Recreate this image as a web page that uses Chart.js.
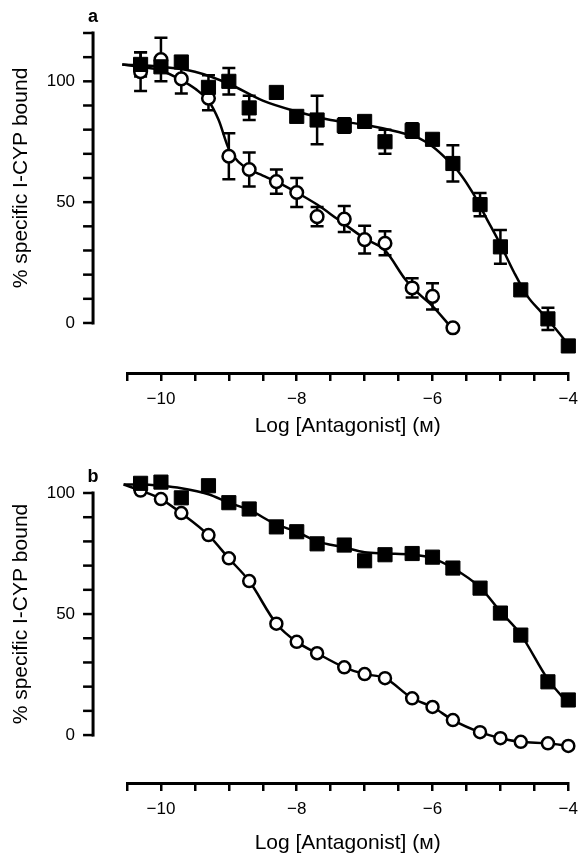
<!DOCTYPE html>
<html>
<head>
<meta charset="utf-8">
<script src="https://cdn.jsdelivr.net/npm/chart.js@4.4.1/dist/chart.umd.min.js"></script>
<style>
  body { margin: 0; background: #fff; }
  canvas { position: absolute; left: 0; }
  #chartA { top: 0; }
  #chartB { top: 440px; }
</style>
</head>
<body>
<canvas id="chartA" width="586" height="440"></canvas>
<canvas id="chartB" width="586" height="418"></canvas>
<script>
const FONT = '"Liberation Sans", Arial, "DejaVu Sans", sans-serif';

// log molar concentrations used in both panels
const logConc = [-10.3, -10, -9.7, -9.3, -9, -8.7, -8.3, -8, -7.7, -7.3, -7, -6.7, -6.3, -6, -5.7, -5.3, -5, -4.7, -4.3, -4];

// panel a
const aSquare = [107, 106, 108, 97.5, 100, 89, 95.4, 85.5, 84, 81.7, 83.4, 75, 79.7, 76, 66, 49, 31.5, 13.7, 1.7, -9.5];
const aSquareErr = [5, 2, 0, 5, 5.5, 5, 0, 0, 10, 3, 0, 5, 3, 0, 7.5, 4.8, 7, 0, 4.6, 0];
const aCircleX = [-10.3, -10, -9.7, -9.3, -9, -8.7, -8.3, -8, -7.7, -7.3, -7, -6.7, -6.3, -6, -5.7];
const aCircle = [104, 109, 101, 93, 69, 63.5, 58.5, 54, 44, 43, 34.5, 33, 14.5, 11, -2];
const aCircleErr = [8, 9, 6, 5, 9.5, 7, 5, 6, 4, 5.4, 5.7, 5, 4, 5.4, 0];

const aSquareFitX = [-10.57, -10, -9.5, -9, -8.5, -8, -7.5, -7, -6.5, -6.2, -6, -5.8, -5.6, -5.4, -5.2, -5, -4.8, -4.6, -4.4, -4.2, -3.97];
const aSquareFitY = [107, 106, 104, 99, 92, 87.5, 84, 82, 79, 76.5, 73, 68, 62, 53.5, 43, 32.5, 21, 11, 4.5, -2, -10];
const aCircleFitX = [-10.57, -10.3, -10, -9.7, -9.5, -9.3, -9.15, -9, -8.85, -8.7, -8.5, -8.3, -8, -7.7, -7.4, -7, -6.7, -6.4, -6.2, -6, -5.72];
const aCircleFitY = [107, 106, 104.5, 100.5, 97, 92, 84, 72, 66.5, 63.5, 61, 58.5, 54, 49, 43, 35, 30, 18, 12, 7, -2];

// panel b
const bSquare = [104, 104.5, 98, 103, 96, 93.4, 86, 84, 79, 78.5, 72, 74.5, 75, 73.5, 69, 60.7, 50.4, 41.3, 22, 14.5];
const bCircle = [101, 97.5, 91.7, 82.6, 73, 63.6, 46, 38.5, 33.8, 28, 25.2, 23.5, 15.2, 11.6, 6.2, 1.2, -1.3, -2.8, -3.4, -4.5];

const bSquareFitX = [-10.55, -10.3, -10, -9.7, -9.3, -9, -8.7, -8.3, -8, -7.7, -7.3, -7, -6.7, -6.3, -6, -5.7, -5.3, -5, -4.7, -4.3, -4];
const bSquareFitY = [103.5, 103.5, 103, 102, 99.5, 96, 93, 87, 84, 80, 77.5, 75.5, 75, 74.5, 73, 69, 61, 51, 41.5, 23, 13];
const bCircleFitX = [-10.55, -10.3, -10, -9.7, -9.3, -9, -8.7, -8.3, -8, -7.7, -7.3, -7, -6.7, -6.3, -6, -5.7, -5.3, -5, -4.7, -4.3, -4];
const bCircleFitY = [103.5, 101, 97.5, 91.7, 82.6, 73, 63.6, 46, 38.5, 33.8, 28, 25.2, 23.5, 15.2, 11.6, 6.2, 1.2, -1.3, -2.8, -3.4, -4.5];

// axes
const xTickValues = [-10, -8, -6, -4];
const xTickLabels = ['\u221210', '\u22128', '\u22126', '\u22124'];
const yTickLabels = [0, 50, 100];
const xTitle = 'Log [Antagonist] (\u1D0D)';
const yTitle = '% specific I-CYP bound';

function pts(xs, ys) {
    return xs.map(function(x, i) { return { x: x, y: ys[i] }; });
}

// draws the detached y axis, error bars and panel letter
const decor = {
    id: 'decor',
    beforeDatasetsDraw(chart, args, o) {
        const ctx = chart.ctx, xs = chart.scales.x, ys = chart.scales.y;
        ctx.save();
        ctx.strokeStyle = '#000';
        ctx.lineWidth = 2.5;
        (o.errors || []).forEach(function(set) {
            set.x.forEach(function(xv, i) {
                const e = set.err[i];
                if (!e) return;
                const px = xs.getPixelForValue(xv);
                const top = ys.getPixelForValue(set.y[i] + e);
                const bot = ys.getPixelForValue(set.y[i] - e);
                ctx.beginPath();
                ctx.moveTo(px, top); ctx.lineTo(px, bot);
                ctx.moveTo(px - 6.5, top); ctx.lineTo(px + 6.5, top);
                ctx.moveTo(px - 6.5, bot); ctx.lineTo(px + 6.5, bot);
                ctx.stroke();
            });
        });
        ctx.restore();
    },
    afterDraw(chart, args, o) {
        const ctx = chart.ctx, xs = chart.scales.x, ys = chart.scales.y;
        const ax = xs.getPixelForValue(-11);
        const y0 = ys.getPixelForValue(0), yT = ys.getPixelForValue(o.yTop);
        ctx.save();
        ctx.strokeStyle = '#000';
        ctx.fillStyle = '#000';
        ctx.lineWidth = 3;
        ctx.beginPath();
        ctx.moveTo(ax, y0 + 1.5); ctx.lineTo(ax, yT - 1.5);
        ctx.stroke();
        ctx.lineWidth = 2.5;
        for (let v = 0; v <= o.yTop; v += 10) {
            const py = ys.getPixelForValue(v);
            ctx.beginPath();
            ctx.moveTo(ax - 10, py); ctx.lineTo(ax, py);
            ctx.stroke();
        }
        ctx.font = '17px ' + FONT;
        ctx.textAlign = 'right';
        ctx.textBaseline = 'middle';
        yTickLabels.forEach(function(v) {
            ctx.fillText(String(v), ax - 18, ys.getPixelForValue(v));
        });
        ctx.save();
        ctx.translate(21, (y0 + yT) / 2);
        ctx.rotate(-Math.PI / 2);
        ctx.textAlign = 'center';
        ctx.font = '21px ' + FONT;
        ctx.fillText(yTitle, 0, 0);
        ctx.restore();
        ctx.font = 'bold 18px ' + FONT;
        ctx.textAlign = 'center';
        ctx.fillText(o.letter, 93, o.letterY);
        ctx.restore();
    }
};

function fitLine(data) {
    return { type: 'line', data: data, borderColor: '#000', borderWidth: 2.5, pointRadius: 0,
             cubicInterpolationMode: 'monotone', fill: false, clip: false, order: 3 };
}
function squares(data) {
    return { type: 'scatter', data: data, pointStyle: 'rect', pointRadius: 10, borderWidth: 1,
             backgroundColor: '#000', borderColor: '#000', clip: false, order: 1 };
}
function circles(data, r) {
    return { type: 'scatter', data: data, pointStyle: 'circle', pointRadius: r, borderWidth: 2.5,
             backgroundColor: '#fff', borderColor: '#000', clip: false, order: 1 };
}

function makeChart(id, p) {
    return new Chart(document.getElementById(id), {
        type: 'scatter',
        data: { datasets: p.datasets },
        plugins: [decor],
        options: {
            responsive: false,
            animation: false,
            events: [],
            layout: { autoPadding: false, padding: { left: 127, right: 10, top: p.top, bottom: 0 } },
            plugins: {
                legend: { display: false },
                tooltip: { enabled: false },
                decor: { yTop: p.yTop, letter: p.letter, letterY: p.letterY, errors: p.errors }
            },
            scales: {
                x: {
                    type: 'linear', position: 'bottom', min: -10.5, max: -4,
                    border: { display: true, color: '#000', width: 3 },
                    grid: { display: true, drawOnChartArea: false, drawTicks: true, tickLength: 8, color: '#000', lineWidth: 2.5 },
                    ticks: {
                        stepSize: 0.5, autoSkip: false, maxRotation: 0, color: '#000', padding: p.tickPad,
                        font: { size: 17, family: FONT },
                        callback: function(v) {
                            const i = xTickValues.indexOf(v);
                            return i >= 0 ? xTickLabels[i] : '';
                        }
                    },
                    title: { display: true, text: xTitle, color: '#000', font: { size: 21, family: FONT },
                             padding: { top: 0, bottom: p.titlePad } },
                    afterFit: function(s) { s.height = p.xHeight; }
                },
                y: { type: 'linear', display: false, min: p.yMin, max: p.yTop }
            }
        }
    });
}

makeChart('chartA', {
    top: 33, yMin: -20.7, yTop: 120, xHeight: 67, tickPad: 8, titlePad: 1,
    letter: 'a', letterY: 17,
    errors: [
        { x: logConc, y: aSquare, err: aSquareErr },
        { x: aCircleX, y: aCircle, err: aCircleErr }
    ],
    datasets: [
        squares(pts(logConc, aSquare)),
        circles(pts(aCircleX, aCircle), 6.3),
        fitLine(pts(aSquareFitX, aSquareFitY)),
        fitLine(pts(aCircleFitX, aCircleFitY))
    ]
});

makeChart('chartB', {
    top: 53, yMin: -19.8, yTop: 100, xHeight: 75, tickPad: 8, titlePad: 2,
    letter: 'b', letterY: 37,
    errors: [],
    datasets: [
        squares(pts(logConc, bSquare)),
        circles(pts(logConc, bCircle), 6),
        fitLine(pts(bSquareFitX, bSquareFitY)),
        fitLine(pts(bCircleFitX, bCircleFitY))
    ]
});
</script>
</body>
</html>
